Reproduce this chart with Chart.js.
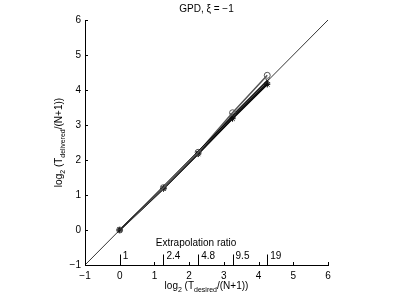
<!DOCTYPE html>
<html>
<head>
<meta charset="utf-8">
<script src="https://cdn.jsdelivr.net/npm/chart.js@4/dist/chart.umd.min.js"></script>
<style>
    html, body { margin: 0; background: #fff; }
</style>
</head>
<body>
<canvas id="chart" width="398" height="300"></canvas>
<script>
// x positions = log2 of the extrapolation ratios
const desiredX = [0, 1.26, 2.26, 3.25, 4.25];
const ratioLabels = ["1", "2.4", "4.8", "9.5", "19"];

// delivered values, one list per marker type
const seriesCircle = [0, 1.21, 2.22, 3.35, 4.42];
const seriesCross = [0, 1.20, 2.20, 3.27, 4.27];
const seriesPlus = [0, 1.19, 2.18, 3.21, 4.20];
const seriesStar = [0, 1.18, 2.17, 3.18, 4.16];

const axisTicks = [-1, 0, 1, 2, 3, 4, 5, 6];
const diagonal = [-1, 6];

const FONT = '"Liberation Sans", Arial, sans-serif';

function toPoints(ys) {
    return desiredX.map((x, i) => ({ x: x, y: ys[i] }));
}

function drawRuns(ctx, runs, x, y) {
    let total = 0;
    runs.forEach(r => {
        ctx.font = r[1] + "px " + FONT;
        total += ctx.measureText(r[0]).width;
    });
    let cx = x - total / 2;
    runs.forEach(r => {
        ctx.font = r[1] + "px " + FONT;
        ctx.fillText(r[0], cx, y + r[2]);
        cx += ctx.measureText(r[0]).width;
    });
}

const decorations = {
    id: "decorations",
    afterDraw(chart) {
        const ctx = chart.ctx;
        const xs = chart.scales.x;
        const ys = chart.scales.y;
        const area = chart.chartArea;
        ctx.save();
        ctx.strokeStyle = "#000";
        ctx.fillStyle = "#000";
        ctx.lineWidth = 1;

        // inward tick marks
        ctx.beginPath();
        axisTicks.forEach(v => {
            const px = Math.round(xs.getPixelForValue(v)) + 0.5;
            ctx.moveTo(px, area.bottom);
            ctx.lineTo(px, area.bottom - 3);
            const py = Math.round(ys.getPixelForValue(v)) + 0.5;
            ctx.moveTo(area.left, py);
            ctx.lineTo(area.left + 3, py);
        });
        ctx.stroke();

        // extrapolation ratio ticks
        ctx.beginPath();
        const base = ys.getPixelForValue(-1);
        const top = ys.getPixelForValue(-0.7);
        desiredX.forEach(v => {
            const px = Math.round(xs.getPixelForValue(v)) + 0.5;
            ctx.moveTo(px, base);
            ctx.lineTo(px, top);
        });
        ctx.stroke();
        ctx.font = "10px " + FONT;
        ctx.textBaseline = "middle";
        ctx.textAlign = "left";
        desiredX.forEach((v, i) => {
            ctx.fillText(ratioLabels[i], xs.getPixelForValue(v) + 3, top + 2);
        });
        ctx.textAlign = "center";
        ctx.fillText("Extrapolation ratio", xs.getPixelForValue(2.2), ys.getPixelForValue(-0.37));

        // title
        ctx.fillText("GPD, \u03be = \u22121", (area.left + area.right) / 2, 9);

        // x axis title
        ctx.textAlign = "left";
        ctx.textBaseline = "alphabetic";
        drawRuns(ctx, [["log", 10, 0], ["2", 7, 3], [" (T", 10, 0], ["desired", 7, 3], ["/(N+1))", 10, 0]],
            (area.left + area.right) / 2, 289);

        // y axis title
        ctx.translate(62, (area.top + area.bottom) / 2);
        ctx.rotate(-Math.PI / 2);
        drawRuns(ctx, [["log", 10, 0], ["2", 7, 3], [" (T", 10, 0], ["delivered", 7, 3], ["/(N+1))", 10, 0]], 0, 0);
        ctx.restore();
    }
};

function lineSet(ys, style, color) {
    return {
        data: toPoints(ys),
        showLine: true,
        borderColor: color,
        borderWidth: 1.5,
        pointStyle: style,
        pointRadius: 3,
        pointBorderColor: color,
        pointBackgroundColor: "rgba(0,0,0,0)",
        pointBorderWidth: 1
    };
}

new Chart(document.getElementById("chart"), {
    type: "scatter",
    data: {
        datasets: [
            {
                data: diagonal.map(v => ({ x: v, y: v })),
                showLine: true,
                borderColor: "#000",
                borderWidth: 0.8,
                pointRadius: 0
            },
            lineSet(seriesCircle, "circle", "#555"),
            lineSet(seriesCross, "crossRot", "#222"),
            lineSet(seriesPlus, "cross", "#111"),
            lineSet(seriesStar, "star", "#000")
        ]
    },
    options: {
        responsive: false,
        animation: false,
        devicePixelRatio: 1,
        layout: { padding: { left: 40, right: 70, top: 20, bottom: 15 } },
        plugins: { legend: { display: false }, tooltip: { enabled: false } },
        scales: {
            x: {
                type: "linear",
                min: -1,
                max: 6,
                afterFit(scale) { scale.height = 20; },
                ticks: {
                    stepSize: 1,
                    padding: 5,
                    color: "#000",
                    font: { size: 10, family: FONT },
                    callback: v => String(v).replace("-", "\u2212")
                },
                grid: { drawOnChartArea: false, drawTicks: false },
                border: { color: "#000", width: 1 }
            },
            y: {
                type: "linear",
                min: -1,
                max: 6,
                afterFit(scale) { scale.width = 45; },
                ticks: {
                    stepSize: 1,
                    padding: 4,
                    color: "#000",
                    font: { size: 10, family: FONT },
                    callback: v => String(v).replace("-", "\u2212")
                },
                grid: { drawOnChartArea: false, drawTicks: false },
                border: { color: "#000", width: 1 }
            }
        }
    },
    plugins: [decorations]
});
</script>
</body>
</html>
